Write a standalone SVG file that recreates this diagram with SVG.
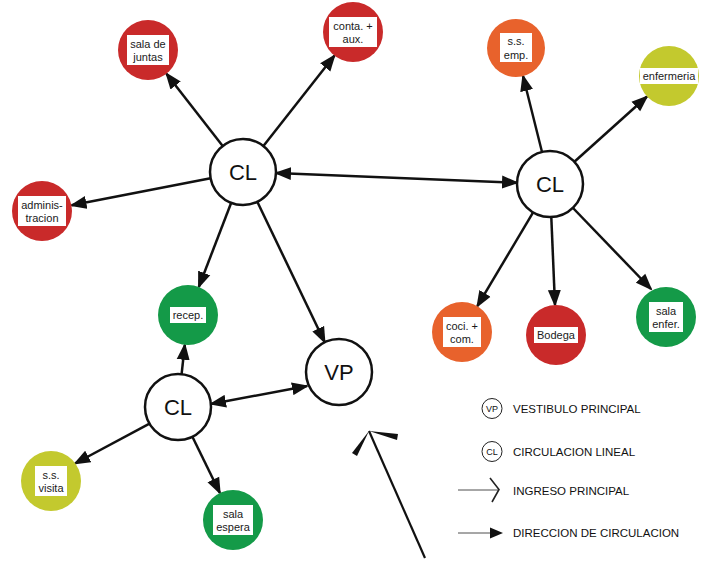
<svg xmlns="http://www.w3.org/2000/svg" width="710" height="561" viewBox="0 0 710 561">
<style>
.big{fill:#fff;stroke:#111;stroke-width:2.5}
.red{fill:#c92a2a}
.org{fill:#e8622c}
.lim{fill:#c3c92e}
.grn{fill:#149a48}
.box{fill:#fff}
.lbl{font-family:"Liberation Sans",Arial,sans-serif;font-size:11px;fill:#1a1a1a;text-anchor:middle}
.cl{font-family:"Liberation Sans",Arial,sans-serif;font-size:22px;fill:#111;text-anchor:middle}
.leg{font-family:"Liberation Sans",Arial,sans-serif;font-size:11.5px;fill:#111}
.legc{fill:#fff;stroke:#222;stroke-width:1}
.legt{font-family:"Liberation Sans",Arial,sans-serif;font-size:9px;fill:#111;text-anchor:middle}
.con{fill:none;stroke:#111;stroke-width:2.5;marker-end:url(#ah)}
.dbl{marker-start:url(#ah)}
</style>
<defs>
<marker id="ah" markerUnits="userSpaceOnUse" markerWidth="18" markerHeight="14" refX="15" refY="6.5" orient="auto-start-reverse" viewBox="0 0 18 13">
<path d="M0,0 L17,6.5 L0,13 Z" fill="#111"/>
</marker>
</defs>
<rect width="710" height="561" fill="#fff"/>
<g id="connectors">
<line class="con" x1="222.7" y1="146" x2="166.4" y2="73.7"/>
<line class="con" x1="263.4" y1="146" x2="334.5" y2="55.6"/>
<line class="con" x1="210.6" y1="178.3" x2="71.5" y2="205.3"/>
<line class="con dbl" x1="276" y1="173" x2="517" y2="182.7"/>
<line class="con" x1="231.2" y1="202.8" x2="198.8" y2="287"/>
<line class="con" x1="257.3" y1="201.8" x2="324.7" y2="342.2"/>
<line class="con" x1="542" y1="152" x2="523" y2="76"/>
<line class="con" x1="574.4" y1="161.8" x2="647" y2="96.5"/>
<line class="con" x1="533.1" y1="212.4" x2="477.3" y2="306.2"/>
<line class="con" x1="551.3" y1="217" x2="555" y2="305"/>
<line class="con" x1="573" y1="208" x2="651" y2="289"/>
<line class="con" x1="181.6" y1="374.2" x2="184.8" y2="344.8"/>
<line class="con dbl" x1="211" y1="404" x2="307" y2="386"/>
<line class="con" x1="149.5" y1="423.6" x2="75" y2="463.5"/>
<line class="con" x1="192.4" y1="436.7" x2="219.9" y2="493"/>
</g>
<g id="cl1"><circle class="big" cx="243" cy="172" r="33"/><text class="cl" x="243" y="180">CL</text></g>
<g id="cl2"><circle class="big" cx="550" cy="184" r="33"/><text class="cl" x="550" y="192">CL</text></g>
<g id="cl3"><circle class="big" cx="178" cy="407" r="33"/><text class="cl" x="178" y="415">CL</text></g>
<g id="vp"><circle class="big" cx="339" cy="372" r="33"/><text class="cl" x="339" y="380">VP</text></g>
<g id="sala-de-juntas"><circle class="red" cx="148" cy="50" r="30"/><rect class="box" x="127" y="35" width="42" height="30"/><text class="lbl" x="148" y="47.5">sala de</text><text class="lbl" x="148" y="61">juntas</text></g>
<g id="conta-aux"><circle class="red" cx="353" cy="32" r="30"/><rect class="box" x="329" y="17" width="48" height="30"/><text class="lbl" x="353" y="29.5">conta. +</text><text class="lbl" x="353" y="43">aux.</text></g>
<g id="administracion"><circle class="red" cx="42" cy="211" r="30"/><rect class="box" x="18" y="196" width="48" height="30"/><text class="lbl" x="42" y="208.5">adminis-</text><text class="lbl" x="42" y="222">tracion</text></g>
<g id="ss-emp"><circle class="org" cx="516" cy="48" r="29"/><rect class="box" x="500" y="33" width="32" height="29"/><text class="lbl" x="516" y="45">s.s.</text><text class="lbl" x="516" y="58.5">emp.</text></g>
<g id="enfermeria"><circle class="lim" cx="669" cy="76" r="30"/><rect class="box" x="640" y="68" width="58" height="16"/><text class="lbl" x="669" y="80">enfermeria</text></g>
<g id="coci-com"><circle class="org" cx="462" cy="332" r="30"/><rect class="box" x="443" y="317" width="38" height="30"/><text class="lbl" x="462" y="329.5">coci. +</text><text class="lbl" x="462" y="343">com.</text></g>
<g id="bodega"><circle class="red" cx="556" cy="335" r="30"/><rect class="box" x="534" y="327" width="44" height="16"/><text class="lbl" x="556" y="339">Bodega</text></g>
<g id="sala-enfer"><circle class="grn" cx="666" cy="317" r="30"/><rect class="box" x="649" y="302" width="34" height="30"/><text class="lbl" x="666" y="314.5">sala</text><text class="lbl" x="666" y="328">enfer.</text></g>
<g id="recep"><circle class="grn" cx="188" cy="315" r="30"/><rect class="box" x="170" y="307" width="36" height="16"/><text class="lbl" x="188" y="319">recep.</text></g>
<g id="ss-visita"><circle class="lim" cx="51" cy="481" r="30"/><rect class="box" x="35" y="466" width="32" height="30"/><text class="lbl" x="51" y="478.5">s.s.</text><text class="lbl" x="51" y="492">visita</text></g>
<g id="sala-espera"><circle class="grn" cx="233" cy="520" r="30"/><rect class="box" x="213" y="505" width="40" height="30"/><text class="lbl" x="233" y="517.5">sala</text><text class="lbl" x="233" y="531">espera</text></g>
<g id="ingreso">
<line x1="425" y1="558" x2="369" y2="431" stroke="#111" stroke-width="2.2"/>
<polygon points="369,431 352,453 357,456" fill="#111"/>
<polygon points="369,431 398,434 397,440" fill="#111"/>
</g>
<g id="legend">
<circle class="legc" cx="492" cy="408.5" r="10"/><text class="legt" x="492" y="412">VP</text>
<text class="leg" x="513" y="413">VESTIBULO PRINCIPAL</text>
<circle class="legc" cx="492" cy="451.5" r="10"/><text class="legt" x="492" y="455">CL</text>
<text class="leg" x="513" y="456">CIRCULACION LINEAL</text>
<line x1="458" y1="490" x2="498" y2="490" stroke="#222" stroke-width="0.8"/>
<polyline points="490,478 499,489.5 492,502" fill="none" stroke="#222" stroke-width="1.6"/>
<text class="leg" x="513" y="495">INGRESO PRINCIPAL</text>
<line x1="458" y1="533" x2="492" y2="533" stroke="#222" stroke-width="0.8"/>
<polygon points="490,527.5 503,533 490,538.5" fill="#111"/>
<text class="leg" x="513" y="537">DIRECCION DE CIRCULACION</text>
</g>
</svg>
